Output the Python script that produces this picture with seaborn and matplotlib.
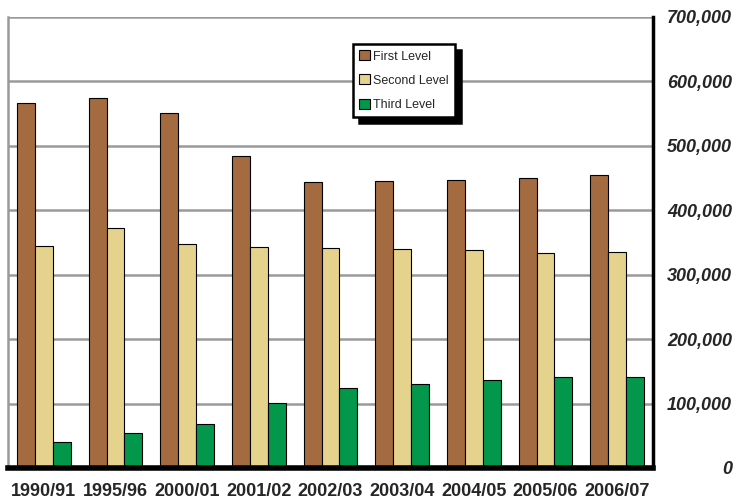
import numpy as np
import pandas as pd
import matplotlib
matplotlib.use("Agg")
import matplotlib.pyplot as plt
import seaborn as sns

# Datos
years = ["1990/91", "1995/96", "2000/01", "2001/02", "2002/03",
         "2003/04", "2004/05", "2005/06", "2006/07"]
first_level = [567000, 575000, 551000, 484000, 444000, 446000, 447000, 450000, 454000]
second_level = [345000, 373000, 348000, 343000, 342000, 340000, 338000, 333000, 336000]
third_level = [40000, 54000, 68000, 101000, 124000, 130000, 136000, 142000, 142000]
levels = ["First Level", "Second Level", "Third Level"]
colores = ["#A46A40", "#E5D28C", "#03974B"]

# Tabla larga para seaborn
df = pd.DataFrame({
    "year": years * 3,
    "level": np.repeat(levels, len(years)),
    "students": first_level + second_level + third_level,
})

sns.set_style("white")
plt.rcParams["font.family"] = ["Liberation Sans", "DejaVu Sans"]

fig = plt.figure(figsize=(7.35, 5.04), dpi=100)
ax = fig.add_axes([8 / 735, 36 / 504, 645 / 735, 451 / 504])

sns.barplot(data=df, x="year", y="students", hue="level", order=years,
            hue_order=levels, palette=colores, width=0.75, saturation=1,
            edgecolor="black", linewidth=0.8, ax=ax)

ax.set_ylim(0, 700000)
ax.set_xlim(-0.5, len(years) - 0.5)
ax.set_yticks(range(0, 700001, 100000))
ax.yaxis.grid(True, color="#9a9a9a", linewidth=1.8)
ax.set_axisbelow(True)

# Ejes: derecha y abajo en negro, izquierda gris
ax.spines["left"].set_color("#9a9a9a")
ax.spines["left"].set_linewidth(1.8)
ax.spines["top"].set_visible(False)
ax.spines["right"].set_color("black")
ax.spines["right"].set_linewidth(2.5)
ax.spines["bottom"].set_color("black")
ax.spines["bottom"].set_linewidth(4)

ax.yaxis.tick_right()
ax.yaxis.set_major_formatter(matplotlib.ticker.FuncFormatter(lambda v, p: f"{v:,.0f}"))
ax.tick_params(axis="y", length=0, pad=57, labelsize=13)
for t in ax.get_yticklabels():
    t.set_fontweight("bold")
    t.set_fontstyle("italic")
    t.set_horizontalalignment("right")
ax.tick_params(axis="x", length=0, pad=11, labelsize=13)
for t in ax.get_xticklabels():
    t.set_fontweight("bold")
ax.set_xlabel("")
ax.set_ylabel("")

# Leyenda con sombra negra
ax.legend(loc="upper left", bbox_to_anchor=(0.535, 0.94), borderaxespad=0,
          fancybox=False, edgecolor="black", framealpha=1, fontsize=9,
          handlelength=0.85, handleheight=0.85, handletextpad=0.25,
          labelspacing=0.95, borderpad=0.5,
          shadow={"ox": 4.5, "oy": -4.5, "color": "black", "alpha": 1})
leg = ax.get_legend()
leg.get_frame().set_linewidth(1.8)
for h in leg.legend_handles:
    h.set_edgecolor("black")
    h.set_linewidth(0.8)

fig.savefig("out.png", dpi=100)
